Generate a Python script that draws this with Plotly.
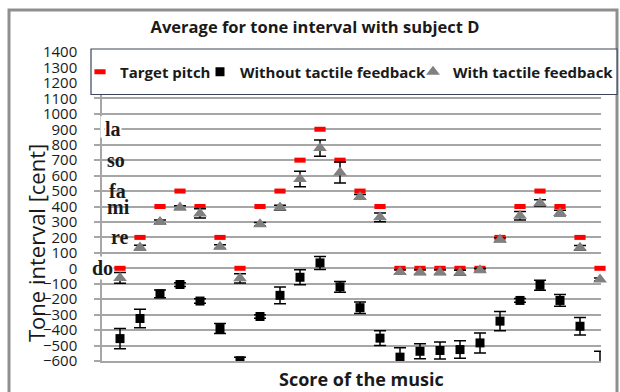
import plotly.graph_objects as go

# Score positions (notes of the melody)
steps = list(range(1, 26))

# Target pitch of each note, in cents above "do"
target_pitch = [0, 200, 400, 500, 400, 200, 0, 400, 500, 700, 900, 700, 500,
                400, 0, 0, 0, 0, 0, 200, 400, 500, 400, 200, 0]

# Mean sung interval without tactile feedback, and its spread
without_fb = [-455, -325, -165, -105, -212, -390, -598, -312, -175, -58, 35,
              -120, -255, -452, -575, -537, -532, -526, -483, -342, -208,
              -110, -208, -375, -650]
without_err = [65, 60, 25, 12, 15, 32, 23, 12, 54, 48, 42, 35, 37, 47, 60,
               48, 55, 57, 65, 62, 12, 32, 38, 57, 113]

# Mean sung interval with tactile feedback, and its spread
with_fb = [-62, 135, 300, 393, 355, 140, -65, 285, 393, 578, 778, 620, 462,
           330, -24, -25, -25, -28, -13, 185, 340, 423, 358, 133, -72]
with_err = [35, 15, 12, 12, 30, 12, 30, 12, 15, 50, 52, 68, 15, 28, 15, 15,
            15, 15, 12, 12, 28, 20, 18, 15, 10]

# Solfege names and their interval in cents
solfege_names = ["do", "re", "mi", "fa", "so", "la"]
solfege_cents = [0, 200, 400, 500, 700, 900]

# Plot-area geometry in pixels
L, R, T, B = 102, 601, 52, 361
W, H = R - L, B - T


def px_x(px):
    return (px - L) / W


def px_y(py):
    return (B - py) / H


SANS = "Open Sans"
INK = "#1a1a1a"
GRID = "#a6a6a6"

fig = go.Figure()

fig.add_trace(go.Scatter(
    x=steps, y=target_pitch, mode="markers", name="Target pitch",
    marker=dict(symbol="line-ew", size=8, color="#ff0000",
                line=dict(color="#ff0000", width=5)),
    cliponaxis=False, legend="legend",
))

fig.add_trace(go.Scatter(
    x=steps, y=without_fb, mode="markers", name="Without tactile feedback",
    marker=dict(symbol="square", size=9, color="#000000"),
    error_y=dict(type="data", array=without_err, visible=True,
                 color="#000000", thickness=1.5, width=6),
    cliponaxis=True, legend="legend2",
))

fig.add_trace(go.Scatter(
    x=steps, y=with_fb, mode="markers", name="With tactile feedback",
    marker=dict(symbol="triangle-up", size=12, color="#808080"),
    error_y=dict(type="data", array=with_err, visible=True,
                 color="#000000", thickness=1.5, width=6),
    cliponaxis=False, legend="legend3",
))

legend_font = dict(family=SANS, size=15, color=INK, weight="bold")
legend_common = dict(orientation="h", bgcolor="rgba(0,0,0,0)", borderwidth=0,
                     yanchor="middle", y=px_y(72), xanchor="left",
                     font=legend_font, itemwidth=30)

shapes = [
    # outer chart frame
    dict(type="rect", xref="paper", yref="paper",
         x0=px_x(9), x1=px_x(617), y0=px_y(400), y1=px_y(10),
         line=dict(color="#8f8f8f", width=3), fillcolor="rgba(0,0,0,0)",
         layer="above"),
    # legend box
    dict(type="rect", xref="paper", yref="paper",
         x0=px_x(91), x1=px_x(617), y0=px_y(94.5), y1=px_y(49),
         line=dict(color="#3d4658", width=1.2), fillcolor="#ffffff",
         layer="above"),
]

# white label panels hiding the start of the gridlines next to the solfege names
for lo, hi in [(650, 950), (150, 550), (-50, 50)]:
    shapes.append(dict(type="rect", xref="paper", yref="y",
                       x0=px_x(103), x1=px_x(131), y0=lo, y1=hi,
                       line=dict(width=0), fillcolor="#ffffff",
                       layer="between"))
# gap in the axis line behind "la"
shapes.append(dict(type="rect", xref="paper", yref="y",
                   x0=px_x(100.5), x1=px_x(104), y0=845, y1=985,
                   line=dict(width=0), fillcolor="#ffffff", layer="above"))

label_px = {"do": 102, "re": 120, "mi": 118, "fa": 117, "so": 116, "la": 113}
annotations = []
for name, cents in zip(solfege_names, solfege_cents):
    annotations.append(dict(
        x=px_x(label_px[name]), xref="paper", y=cents, yref="y",
        text=name, showarrow=False, xanchor="center", yanchor="middle",
        font=dict(family="Liberation Serif", size=20, color=INK,
                  weight="bold"),
        bgcolor="#ffffff" if name in ("do", "la") else "rgba(0,0,0,0)",
        borderpad=0,
    ))

# axis titles
annotations.append(dict(
    x=px_x(36), xref="paper", y=px_y(243), yref="paper",
    text="Tone interval [cent]", textangle=-90, showarrow=False,
    xanchor="center", yanchor="middle",
    font=dict(family=SANS, size=22, color=INK)))
annotations.append(dict(
    x=px_x(361), xref="paper", y=px_y(379), yref="paper",
    text="Score of the music", showarrow=False,
    xanchor="center", yanchor="middle",
    font=dict(family=SANS, size=18, color=INK, weight="bold")))

fig.update_layout(
    width=620, height=392,
    margin=dict(l=L, r=620 - R, t=T, b=392 - B, autoexpand=False),
    paper_bgcolor="#ffffff", plot_bgcolor="#ffffff",
    title=dict(text="Average for tone interval with subject D",
               x=315 / 620, xanchor="center", xref="container",
               y=1 - 27 / 392, yanchor="middle", yref="container",
               font=dict(family=SANS, size=16.5, color=INK, weight="bold")),
    legend=dict(x=px_x(80), **legend_common),
    legend2=dict(x=px_x(200), **legend_common),
    legend3=dict(x=px_x(413), **legend_common),
    xaxis=dict(range=[0.1, 25.05], showgrid=False, zeroline=False,
               showticklabels=False, ticks="", showline=True,
               linecolor=GRID, linewidth=1.5),
    yaxis=dict(range=[-600, 1400], tick0=0, dtick=100, showgrid=True,
               gridcolor=GRID, gridwidth=1.5, zeroline=False,
               showline=True, linecolor=GRID, linewidth=1.5,
               ticks="outside", ticklen=6, tickcolor=GRID, tickwidth=1.5,
               tickfont=dict(family=SANS, size=15, color=INK),
               ticklabelstandoff=14),
    shapes=shapes,
    annotations=annotations,
    showlegend=True,
)

fig.write_html("out.html")
